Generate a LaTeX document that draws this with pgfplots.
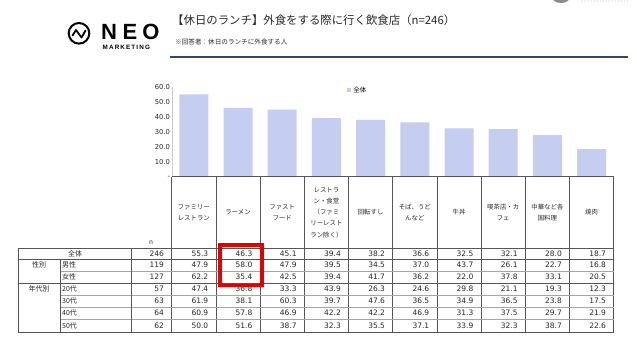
\documentclass[border=0pt]{standalone}
\usepackage{fontspec}
\setmainfont{Noto Sans CJK JP}
\newfontfamily\numfont{DejaVu Sans}
\newfontfamily\logofont{Liberation Sans}
\newfontfamily\logosp{Liberation Sans}[LetterSpace=18]
\usepackage{pgfplots}
\pgfplotsset{compat=1.18}
\definecolor{barc}{RGB}{197,205,240}
\definecolor{navy}{RGB}{52,66,128}
\definecolor{tdark}{RGB}{85,85,85}
\definecolor{tlight}{RGB}{165,165,165}
\definecolor{txt}{RGB}{40,40,40}
\definecolor{redbox}{RGB}{226,0,0}

\begin{document}
\begin{tikzpicture}
\begin{axis}[
  scale only axis, width=442pt, height=89.7pt,
  at={(171.7pt,-177pt)}, anchor=south west,
  xmin=-0.5, xmax=9.5, ymin=0, ymax=60,
  axis lines*=left,
  x axis line style={draw=none},
  y axis line style={draw=black!20},
  xtick=\empty,
  ytick={0,10,20,30,40,50,60},
  yticklabels={-,10.0,20.0,30.0,40.0,50.0,60.0},
  major tick length=0pt,
  yticklabel style={font=\numfont\fontsize{6.8}{6.8}\selectfont, text=txt, inner sep=1.5pt},
  /pgf/number format/assume math mode=true,
  ybar, bar width=29pt,
  legend style={at={(0.397,0.967)}, anchor=west, draw=none, fill=none,
    font=\fontsize{6.5}{6.5}\selectfont, inner sep=0pt,
    /tikz/every even column/.append style={column sep=2pt}},
  legend image code/.code={\fill[barc] (0pt,-2pt) rectangle (4pt,2pt);},
]
\addplot[fill=barc, draw=none] coordinates {
  (0,55.3) (1,46.3) (2,45.1) (3,39.4) (4,38.2)
  (5,36.6) (6,32.5) (7,32.1) (8,28.0) (9,18.7)};
\addlegendentry{全体}
\end{axis}

\begin{scope}[x=1pt,y=-1pt]
\path[use as bounding box] (0,0) rectangle (637,357);
% cropped logo top right
\begin{scope}
\clip (0,0) rectangle (637,357);
\fill[black!45] (561,-3) ellipse (9 and 6);
\foreach \xx in {582,585,...,628} {\fill[black!35] (\xx,1) circle (0.5);}
\end{scope}
% logo
\draw[line width=2pt] (79,33.3) circle (10.3);
\draw[line width=1.8pt, line join=round, line cap=round] (72.5,35.5) -- (76,30) -- (81.5,37.5) -- (85.5,30.5);
\node[anchor=center, inner sep=0] at (109,31.7) {\logofont\bfseries\fontsize{22}{22}\selectfont N};
\node[anchor=center, inner sep=0] at (130,31.7) {\logofont\bfseries\fontsize{22}{22}\selectfont E};
\node[anchor=center, inner sep=0] at (151,31.7) {\logofont\bfseries\fontsize{22}{22}\selectfont O};
\node[anchor=west, inner sep=0] at (102.5,47.5) {\logosp\bfseries\fontsize{6.3}{6.3}\selectfont MARKETING};
% title
\node[anchor=west, inner sep=0, text=txt] at (172,20) {\fontsize{11.4}{11.4}\selectfont 【休日のランチ】外食をする際に行く飲食店（n=246）};
\node[anchor=west, inner sep=0, text=txt] at (175,41.5) {\fontsize{6.6}{6.6}\selectfont ※回答者：休日のランチに外食する人};
\draw[navy, line width=1.5pt] (170,57) -- (628,57);

% table header
\draw[tdark, line width=0.7pt] (171.7,176.7) -- (613.7,176.7);
\foreach \i in {0,...,10} {
  \draw[tdark, line width=0.7pt] ({171.7+44.2*\i},176.7) -- ({171.7+44.2*\i},332.3);
}
\foreach \lab [count=\i from 0] in {
  {ファミリー\\レストラン},{ラーメン},{ファスト\\フード},
  {レストラ\\ン・食堂\\（ファミ\\リーレスト\\ラン除く）},
  {回転すし},{そば、うど\\んなど},{牛丼},{喫茶店・カ\\フェ},
  {中華など各\\国料理},{焼肉}} {
  \node[align=center, inner sep=0, text=txt, font=\fontsize{6.4}{11.3}\selectfont]
    at ({171.7+44.2*\i+22.1},212.5) {\lab};
}
% table grid
\draw[tdark, line width=0.8pt] (18,248.3) rectangle (613.7,332.3);
\draw[tdark, line width=0.8pt] (18,259.5) -- (613.7,259.5);
\draw[tdark, line width=0.8pt] (18,283) -- (613.7,283);
\foreach \yy in {271,295.5,307,319} {
  \draw[tlight, line width=0.6pt] (60,\yy) -- (613.7,\yy);
}
\draw[tdark, line width=0.7pt] (60,259.5) -- (60,332.3);
\draw[tdark, line width=0.7pt] (131.7,248.3) -- (131.7,332.3);

% left labels
\node[text=txt, inner sep=0, font=\fontsize{6.5}{6.5}\selectfont] at (151,242.5) {n};
\node[text=txt, inner sep=0, font=\fontsize{7}{7}\selectfont] at (75,253.9) {全体};
\node[text=txt, inner sep=0, font=\fontsize{7}{7}\selectfont] at (39,265.2) {性別};
\node[text=txt, inner sep=0, font=\fontsize{7}{7}\selectfont] at (39,289.2) {年代別};
\foreach \lab/\yy in {男性/265.2,女性/277,20代/289.2,30代/301.2,40代/313,50代/325.7} {
  \node[anchor=west, text=txt, inner sep=0, font=\fontsize{7}{7}\selectfont] at (62,\yy) {\lab};
}
% numbers
\foreach \row/\yy in {
  {246,55.3,46.3,45.1,39.4,38.2,36.6,32.5,32.1,28.0,18.7}/253.9,
  {119,47.9,58.0,47.9,39.5,34.5,37.0,43.7,26.1,22.7,16.8}/265.2,
  {127,62.2,35.4,42.5,39.4,41.7,36.2,22.0,37.8,33.1,20.5}/277,
  {57,47.4,36.8,33.3,43.9,26.3,24.6,29.8,21.1,19.3,12.3}/289.2,
  {63,61.9,38.1,60.3,39.7,47.6,36.5,34.9,36.5,23.8,17.5}/301.2,
  {64,60.9,57.8,46.9,42.2,42.2,46.9,31.3,37.5,29.7,21.9}/313,
  {62,50.0,51.6,38.7,32.3,35.5,37.1,33.9,32.3,38.7,22.6}/325.7} {
  \foreach \v [count=\j from 0] in \row {
    \node[anchor=east, text=txt, inner sep=0, font=\numfont\fontsize{7.5}{7.5}\selectfont]
      at ({171.7+44.2*\j-7.5},\yy) {\v};
  }
}
% red highlight box
\draw[redbox, line width=3.2pt] (220,245) rectangle (262,285.3);
\end{scope}
\end{tikzpicture}
\end{document}
